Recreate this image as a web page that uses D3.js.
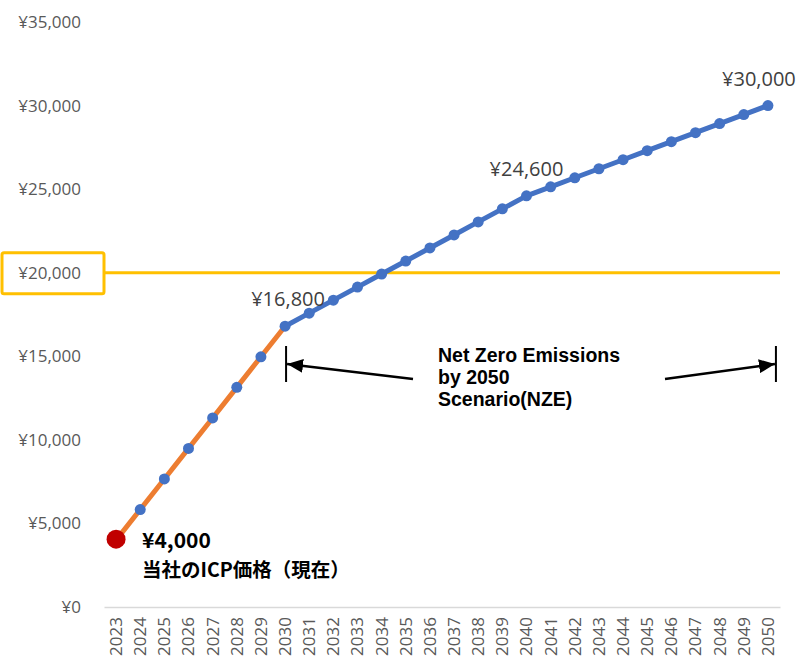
<!DOCTYPE html>
<html>
<head>
<meta charset="utf-8">
<script src="https://cdn.jsdelivr.net/npm/d3@7"></script>
<style>
  html, body { margin: 0; padding: 0; background: #ffffff; }
  svg { display: block; }
</style>
</head>
<body>
<svg id="chart" width="799" height="660"></svg>
<script>
// ---- data ----
const years = ["2023","2024","2025","2026","2027","2028","2029","2030","2031","2032","2033","2034","2035","2036","2037","2038","2039","2040","2041","2042","2043","2044","2045","2046","2047","2048","2049","2050"];
const currentYears = ["2023","2024","2025","2026","2027","2028","2029","2030"];
const currentValues = [4000, 5830, 7660, 9490, 11310, 13140, 14970, 16800];
const nzeYears = ["2030","2031","2032","2033","2034","2035","2036","2037","2038","2039","2040","2041","2042","2043","2044","2045","2046","2047","2048","2049","2050"];
const nzeValues = [16800, 17580, 18360, 19140, 19920, 20700, 21480, 22260, 23040, 23820, 24600, 25140, 25680, 26220, 26760, 27300, 27840, 28380, 28920, 29460, 30000];
const yTicks = [0, 5000, 10000, 15000, 20000, 25000, 30000, 35000];
const thresholdValue = 20000;
const labelledYears = ["2030", "2040", "2050"];
const nzeText = ["Net Zero Emissions", "by 2050", "Scenario(NZE)"];
const icpValueText = "¥4,000";
const icpText = "当社のICP価格（現在）";

// ---- setup ----
const svg = d3.select("#chart");
const x = d3.scaleBand().domain(years).range([104, 780]).padding(0);
const xc = d => x(d) + x.bandwidth() / 2;
const y = d3.scaleLinear().domain([0, 35000]).range([607, 22]);
const yen = d => "¥" + d3.format(",")(d);

const tickFont = "'Open Sans', 'Noto Sans', sans-serif";
const jpFont = "'Noto Sans CJK JP', 'Noto Sans', sans-serif";
const latinBold = "'Liberation Sans', Arial, sans-serif";

// y axis labels
const yAxis = svg.append("g").attr("transform", "translate(81,0)")
  .call(d3.axisLeft(y).tickValues(yTicks).tickFormat(yen).tickSize(0).tickPadding(0));
yAxis.select(".domain").remove();
yAxis.selectAll("text")
  .attr("fill", "#595959").style("font-family", tickFont).style("font-size", "17px");

// x axis
const xAxis = svg.append("g").attr("transform", "translate(0," + y(0) + ")")
  .call(d3.axisBottom(x).tickSize(0).tickPadding(0));
xAxis.select(".domain").attr("stroke", "#D9D9D9").attr("stroke-width", 1.5);
xAxis.selectAll("text")
  .attr("fill", "#595959").style("font-family", tickFont).style("font-size", "17px")
  .attr("text-anchor", "end")
  .attr("dy", "0.35em")
  .attr("transform", "translate(0,10) rotate(-90)")
  .attr("x", 0).attr("y", 0);

// threshold line
svg.append("line")
  .attr("x1", x.range()[0]).attr("x2", x.range()[1])
  .attr("y1", y(thresholdValue)).attr("y2", y(thresholdValue))
  .attr("stroke", "#FFC000").attr("stroke-width", 3);

// box around ¥20,000 label
svg.append("rect")
  .attr("x", 2).attr("y", y(thresholdValue) - 20)
  .attr("width", x.range()[0] - 2).attr("height", 41)
  .attr("rx", 2)
  .attr("fill", "none").attr("stroke", "#FFC000").attr("stroke-width", 3);

// lines
const line = d3.line().x(d => xc(d[0])).y(d => y(d[1]));
const nzePts = nzeYears.map((yr, i) => [yr, nzeValues[i]]);
const curPts = currentYears.map((yr, i) => [yr, currentValues[i]]);

svg.append("path").datum(nzePts).attr("d", line)
  .attr("fill", "none").attr("stroke", "#4472C4").attr("stroke-width", 5)
  .attr("stroke-linejoin", "round");
svg.append("path").datum(curPts).attr("d", line)
  .attr("fill", "none").attr("stroke", "#ED7D31").attr("stroke-width", 5)
  .attr("stroke-linejoin", "round");

// markers
const markerPts = curPts.slice(1, -1).concat(nzePts);
svg.append("g").selectAll("circle").data(markerPts).join("circle")
  .attr("cx", d => xc(d[0])).attr("cy", d => y(d[1])).attr("r", 5.5)
  .attr("fill", "#4472C4");

// current ICP red dot
svg.append("circle")
  .attr("cx", xc(currentYears[0])).attr("cy", y(currentValues[0]) - 1).attr("r", 9.5)
  .attr("fill", "#C00000");

// data labels
const labelOffsets = { "2030": 3, "2040": 0, "2050": -9 };
const allPts = new Map(nzePts);
svg.append("g").selectAll("text").data(labelledYears).join("text")
  .attr("x", d => xc(d) + labelOffsets[d])
  .attr("y", d => y(allPts.get(d)) - 20)
  .attr("text-anchor", "middle")
  .attr("fill", "#404040")
  .style("font-family", tickFont).style("font-size", "20px")
  .text(d => yen(allPts.get(d)));

// ICP annotation
const icpX = xc(currentYears[0]) + 26;
svg.append("text")
  .attr("x", icpX).attr("y", y(currentValues[0]) + 8)
  .style("font-family", jpFont).style("font-size", "21px").style("font-weight", "bold")
  .attr("fill", "#000").text(icpValueText);
svg.append("text")
  .attr("x", icpX).attr("y", y(currentValues[0]) + 37)
  .style("font-family", jpFont).style("font-size", "19.5px").style("font-weight", "bold")
  .attr("fill", "#000").text(icpText);

// NZE annotation
const defs = svg.append("defs");
defs.append("marker")
  .attr("id", "arrow").attr("viewBox", "0 0 16 14")
  .attr("refX", 16).attr("refY", 7)
  .attr("markerWidth", 16).attr("markerHeight", 14)
  .attr("markerUnits", "userSpaceOnUse")
  .attr("orient", "auto")
  .append("path").attr("d", "M0,0 L16,7 L0,14 Z").attr("fill", "#000");

const leftBar = xc("2030") + 1;
const rightBar = xc("2050") + 8;
const barTop = 346, barBottom = 382;
[leftBar, rightBar].forEach(bx => {
  svg.append("line").attr("x1", bx).attr("x2", bx)
    .attr("y1", barTop).attr("y2", barBottom)
    .attr("stroke", "#000").attr("stroke-width", 2);
});
svg.append("line")
  .attr("x1", 413).attr("y1", 379).attr("x2", leftBar + 1).attr("y2", 364)
  .attr("stroke", "#000").attr("stroke-width", 2.5).attr("marker-end", "url(#arrow)");
svg.append("line")
  .attr("x1", 665).attr("y1", 379).attr("x2", rightBar - 1).attr("y2", 364)
  .attr("stroke", "#000").attr("stroke-width", 2.5).attr("marker-end", "url(#arrow)");

svg.append("g").selectAll("text").data(nzeText).join("text")
  .attr("x", 438).attr("y", (d, i) => 362 + i * 22)
  .style("font-family", latinBold).style("font-size", "19.5px").style("font-weight", "bold")
  .attr("fill", "#000").text(d => d);
</script>
</body>
</html>
